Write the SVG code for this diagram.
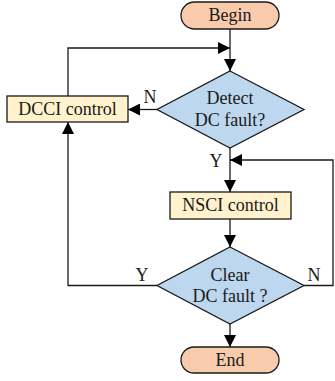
<svg xmlns="http://www.w3.org/2000/svg" width="335" height="381" viewBox="0 0 335 381">
<defs>
<style>
.term{fill:#f8cbad;stroke:#1a1a1a;stroke-width:1.3}
.proc{fill:#fff2cc;stroke:#1a1a1a;stroke-width:1.3}
.dec{fill:#bdd7ee;stroke:#1a1a1a;stroke-width:1.3}
text{fill:#1a1a1a;text-anchor:middle;font-family:'Liberation Serif','DejaVu Serif',serif;font-size:18px}
.c{fill:none;stroke:#1a1a1a;stroke-width:1.3}
</style>
<marker id="ah" viewBox="0 0 10 10" refX="10" refY="5" markerWidth="12" markerHeight="12" markerUnits="userSpaceOnUse" orient="auto">
<path d="M0,0 L10,5 L0,10 z" fill="#000"/>
</marker>
</defs>
<rect width="335" height="381" fill="#fff"/>
<g id="connectors">
<path class="c" d="M230,29 V71" marker-end="url(#ah)"/>
<path class="c" d="M68,96 V48 H230" marker-end="url(#ah)"/>
<path class="c" d="M157,109.5 H128" marker-end="url(#ah)"/>
<path class="c" d="M230,148 V192" marker-end="url(#ah)"/>
<path class="c" d="M304,285.5 H333 V160 H230" marker-end="url(#ah)"/>
<path class="c" d="M230,219 V247" marker-end="url(#ah)"/>
<path class="c" d="M157,285.5 H68 V122" marker-end="url(#ah)"/>
<path class="c" d="M230,324 V347" marker-end="url(#ah)"/>
<text x="150" y="103">N</text>
<text x="216" y="167">Y</text>
<text x="142" y="281">Y</text>
<text x="314" y="281">N</text>
</g>
<g id="begin">
<rect class="term" x="181" y="2" width="98" height="27" rx="13.5"/>
<text x="230" y="21">Begin</text>
</g>
<g id="detect">
<polygon class="dec" points="230,71 304,109.5 230,148 157,109.5"/>
<text x="230" y="104">Detect</text>
<text x="230" y="126">DC fault?</text>
</g>
<g id="dcci">
<rect class="proc" x="7" y="96" width="121" height="26"/>
<text x="67.5" y="115">DCCI control</text>
</g>
<g id="nsci">
<rect class="proc" x="170" y="192" width="121" height="27"/>
<text x="230.5" y="211">NSCI control</text>
</g>
<g id="clear">
<polygon class="dec" points="230,247 304,285.5 230,324 157,285.5"/>
<text x="230" y="281">Clear</text>
<text x="230" y="302">DC fault ?</text>
</g>
<g id="end">
<rect class="term" x="181" y="347" width="98" height="26" rx="13"/>
<text x="230" y="366">End</text>
</g>
</svg>
